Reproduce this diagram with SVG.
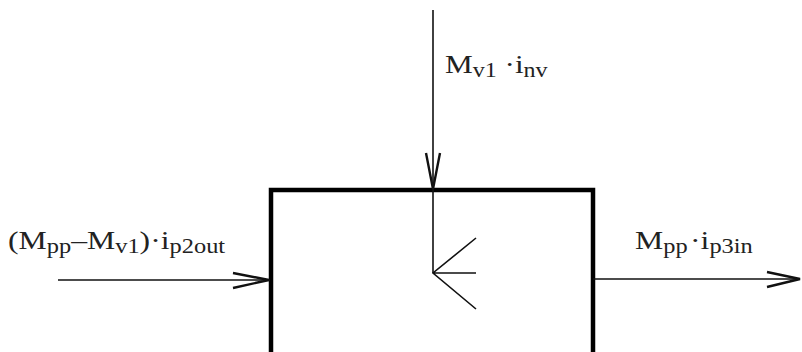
<svg xmlns="http://www.w3.org/2000/svg" width="802" height="352" viewBox="0 0 802 352">
<style>
.t{font-family:"Liberation Serif","Times New Roman",serif;font-size:26px;fill:#222}
.s{font-size:20px}
.ln{stroke:#111;stroke-width:1.6;fill:none}
.ah{stroke:#111;stroke-width:2.4;fill:none;stroke-linejoin:miter}
.box{stroke:#000;stroke-width:4.5;fill:none;stroke-linejoin:miter}
</style>
<rect width="802" height="352" fill="#fff"/>
<g id="block">
<path class="box" d="M271,352 V190 H593 V352"/>
<path class="ln" d="M476,238 L433,273 L476,309 M433,273 H476" stroke-width="2"/>
</g>
<g id="connectors">
<path class="ln" d="M433,10 V273"/>
<path class="ah" d="M426,153 L433,189 L440,153"/>
<path class="ln" d="M58,280 H270"/>
<path class="ah" d="M233,273 L269,280 L233,288"/>
<path class="ln" d="M593,279 H800"/>
<path class="ah" d="M767,272 L800,279 L767,287"/>
</g>
<g id="labels">
<text class="t" transform="translate(445,73) scale(1.2,1)">M<tspan class="s" dy="4">v1</tspan><tspan dy="-4"> ·i</tspan><tspan class="s" dy="4">nv</tspan></text>
<text class="t" transform="translate(8,249) scale(1.22,1)">(M<tspan class="s" dy="4">pp</tspan><tspan dy="-4">–M</tspan><tspan class="s" dy="4">v1</tspan><tspan dy="-4">)·i</tspan><tspan class="s" dy="4">p2out</tspan></text>
<text class="t" transform="translate(635,249) scale(1.22,1)">M<tspan class="s" dy="4">pp</tspan><tspan dy="-4" dx="2">·i</tspan><tspan class="s" dy="4">p3in</tspan></text>
</g>
</svg>
